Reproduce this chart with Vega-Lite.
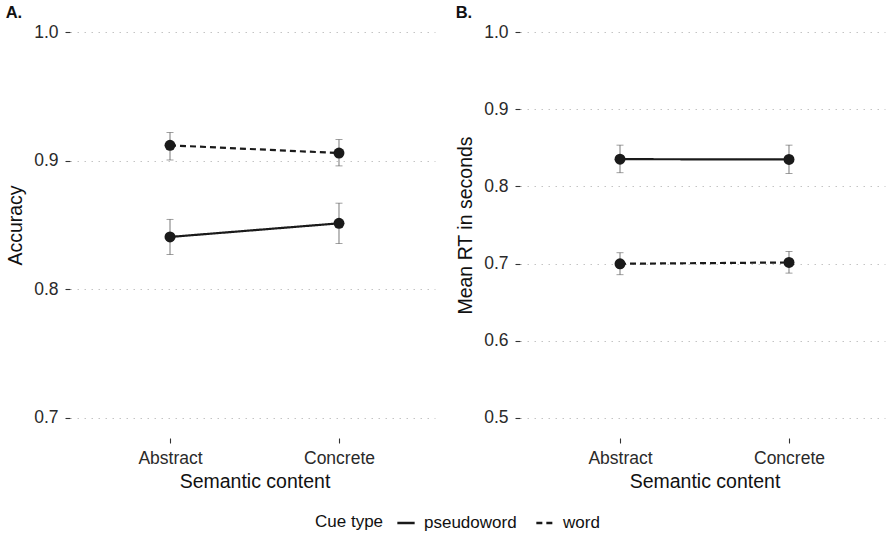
{
  "$schema": "https://vega.github.io/schema/vega-lite/v6.json",
  "padding": {"left": 5, "top": 4, "right": 0, "bottom": 0},
  "background": "white",
  "config": {
    "font": "Liberation Sans",
    "view": {"stroke": null},
    "axis": {
      "labelFontSize": 17.5,
      "labelColor": "#2a2a2a",
      "titleFontSize": 19.5,
      "titleFontWeight": "normal",
      "titleColor": "#111111",
      "tickColor": "#333333",
      "tickSize": 5,
      "tickWidth": 1.1,
      "domain": false,
      "grid": false
    },
    "axisY": {
      "grid": true,
      "gridDash": [1.5, 5.5],
      "gridColor": "#c4c4c4",
      "gridWidth": 1,
      "offset": 2,
      "labelPadding": 7,
      "titlePadding": 8
    },
    "axisX": {"offset": 1, "labelPadding": 6, "titlePadding": 6, "labelAngle": 0},
    "title": {"fontSize": 16.5, "fontWeight": "bold", "color": "#111111", "anchor": "start", "frame": "bounds", "offset": -8, "baseline": "alphabetic"}
  },
  "datasets": {
    "acc": [
      {"content": "Abstract", "cue": "pseudoword", "mean": 0.8407, "lo": 0.827, "hi": 0.8544},
      {"content": "Concrete", "cue": "pseudoword", "mean": 0.8513, "lo": 0.8355, "hi": 0.867},
      {"content": "Abstract", "cue": "word", "mean": 0.912, "lo": 0.9006, "hi": 0.922},
      {"content": "Concrete", "cue": "word", "mean": 0.906, "lo": 0.896, "hi": 0.9165}
    ],
    "rt": [
      {"content": "Abstract", "cue": "pseudoword", "mean": 0.8354, "lo": 0.8178, "hi": 0.8536},
      {"content": "Concrete", "cue": "pseudoword", "mean": 0.835, "lo": 0.8169, "hi": 0.8536},
      {"content": "Abstract", "cue": "word", "mean": 0.6997, "lo": 0.6855, "hi": 0.714},
      {"content": "Concrete", "cue": "word", "mean": 0.7014, "lo": 0.6876, "hi": 0.7157}
    ]
  },
  "spacing": 18,
  "resolve": {"legend": {"strokeDash": "shared"}},
  "hconcat": [
    {
      "width": 365,
      "height": 424,
      "title": {"text": "A."},
      "data": {"name": "acc"},
      "encoding": {
        "x": {"field": "content", "type": "nominal", "title": "Semantic content", "scale": {"type": "point", "padding": 0.58}}
      },
      "layer": [
        {
          "mark": {"type": "rule", "color": "#555555", "strokeWidth": 0.8},
          "encoding": {
            "y": {"field": "lo", "type": "quantitative", "title": "Accuracy", "scale": {"domain": [0.685, 1.015], "nice": false, "zero": false}, "axis": {"values": [0.7, 0.8, 0.9, 1.0], "format": ".1f"}},
            "y2": {"field": "hi"}
          }
        },
        {
          "mark": {"type": "tick", "size": 7, "thickness": 0.8, "color": "#555555"},
          "encoding": {"y": {"field": "hi", "type": "quantitative", "title": "Accuracy"}}
        },
        {
          "mark": {"type": "tick", "size": 7, "thickness": 0.8, "color": "#555555"},
          "encoding": {"y": {"field": "lo", "type": "quantitative", "title": "Accuracy"}}
        },
        {
          "mark": {"type": "line", "color": "#1a1a1a", "strokeWidth": 2.2},
          "encoding": {
            "y": {"field": "mean", "type": "quantitative", "title": "Accuracy"},
            "strokeDash": {
              "field": "cue", "type": "nominal",
              "scale": {"domain": ["pseudoword", "word"], "range": [[1, 0], [6, 4]]},
              "legend": {
                "title": "Cue type", "orient": "none", "legendX": 243, "legendY": 500,
                "direction": "horizontal", "titleOrient": "left",
                "titleFontSize": 17, "labelFontSize": 17, "titleFontWeight": "normal",
                "titleColor": "#111111", "labelColor": "#111111",
                "symbolStrokeWidth": 2.5, "symbolSize": 300, "symbolStrokeColor": "#1a1a1a",
                "symbolType": "stroke",
                "titlePadding": 12, "columnPadding": 14, "labelOffset": 8
              }
            }
          }
        },
        {
          "mark": {"type": "point", "filled": true, "size": 120, "color": "#1a1a1a", "opacity": 1},
          "encoding": {"y": {"field": "mean", "type": "quantitative", "title": "Accuracy"}, "detail": {"field": "cue"}}
        }
      ]
    },
    {
      "width": 365,
      "height": 424,
      "title": {"text": "B."},
      "data": {"name": "rt"},
      "encoding": {
        "x": {"field": "content", "type": "nominal", "title": "Semantic content", "scale": {"type": "point", "padding": 0.58}}
      },
      "layer": [
        {
          "mark": {"type": "rule", "color": "#555555", "strokeWidth": 0.8},
          "encoding": {
            "y": {"field": "lo", "type": "quantitative", "title": "Mean RT in seconds", "scale": {"domain": [0.475, 1.025], "nice": false, "zero": false}, "axis": {"values": [0.5, 0.6, 0.7, 0.8, 0.9, 1.0], "format": ".1f"}},
            "y2": {"field": "hi"}
          }
        },
        {
          "mark": {"type": "tick", "size": 7, "thickness": 0.8, "color": "#555555"},
          "encoding": {"y": {"field": "hi", "type": "quantitative", "title": "Mean RT in seconds"}}
        },
        {
          "mark": {"type": "tick", "size": 7, "thickness": 0.8, "color": "#555555"},
          "encoding": {"y": {"field": "lo", "type": "quantitative", "title": "Mean RT in seconds"}}
        },
        {
          "mark": {"type": "line", "color": "#1a1a1a", "strokeWidth": 2.2},
          "encoding": {
            "y": {"field": "mean", "type": "quantitative", "title": "Mean RT in seconds"},
            "strokeDash": {"field": "cue", "type": "nominal", "scale": {"domain": ["pseudoword", "word"], "range": [[1, 0], [6, 4]]}}
          }
        },
        {
          "mark": {"type": "point", "filled": true, "size": 120, "color": "#1a1a1a", "opacity": 1},
          "encoding": {"y": {"field": "mean", "type": "quantitative", "title": "Mean RT in seconds"}, "detail": {"field": "cue"}}
        }
      ]
    }
  ]
}
